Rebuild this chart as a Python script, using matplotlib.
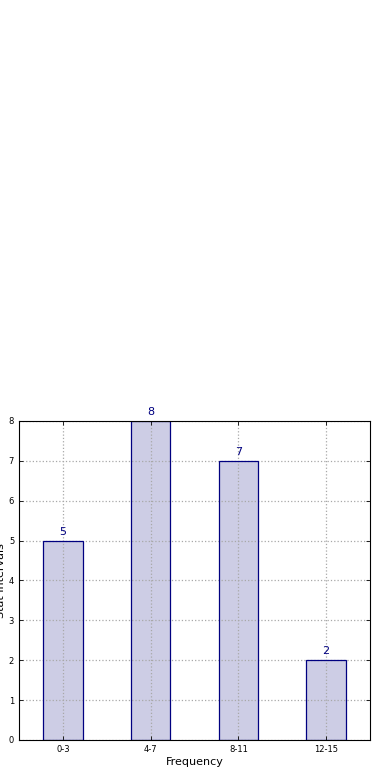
import matplotlib
matplotlib.use("Agg")
import matplotlib.pyplot as plt

categories = ["0-3", "4-7", "8-11", "12-15"]
counts = [5, 8, 7, 2]

fig = plt.figure(figsize=(3.9, 7.8), dpi=100)
ax = fig.add_axes([0.0487, 0.0513, 0.9, 0.4090])

xs = list(range(len(categories)))
# fill below the grid, outline above it
ax.bar(xs, counts, width=0.45, color="#cdcde5", linewidth=0, zorder=1)
ax.bar(xs, counts, width=0.45, fill=False, edgecolor="navy", linewidth=0.9, zorder=2)
for x, v in zip(xs, counts):
    ax.text(x, v + 0.1, str(v), ha="center", va="bottom", color="navy", fontsize=8)

ax.set_xlim(-0.5, 3.5)
ax.set_ylim(0, 8)
ax.set_xticks(xs)
ax.set_xticklabels(categories)
ax.set_yticks(range(0, 9))
ax.tick_params(direction="in", top=True, right=True, labelsize=6, length=3, width=0.6)
ax.set_axisbelow("line")
ax.grid(True, linestyle=":", color="#a8a8a8", linewidth=0.9)
for s in ax.spines.values():
    s.set_linewidth(0.8)
ax.set_xlabel("Frequency", fontsize=8, labelpad=2)
ax.set_ylabel("Stat Intervals", fontsize=8, labelpad=2)

fig.savefig("out.png", dpi=100)
